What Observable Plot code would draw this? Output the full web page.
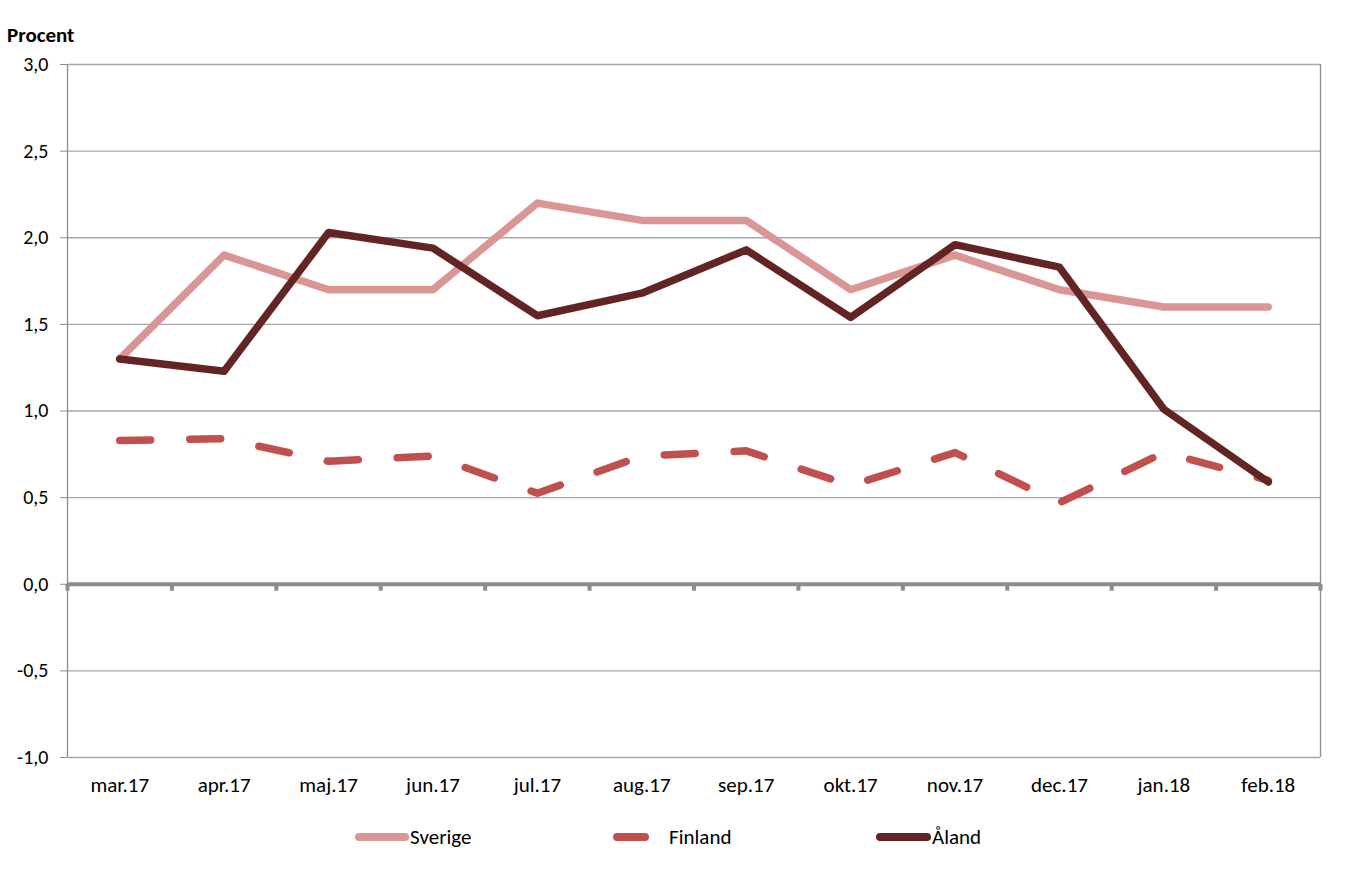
<!DOCTYPE html>
<html><head><meta charset="utf-8">
<script src="https://cdn.jsdelivr.net/npm/d3@7"></script>
<script src="https://cdn.jsdelivr.net/npm/@observablehq/plot@0.6"></script>
<style>
body{margin:0;background:#fff;font-family:Carlito,Lato,sans-serif;}
#wrap{position:relative;width:1347px;height:876px;}
#ylab{position:absolute;left:7px;top:22px;font-weight:bold;font-size:21px;color:#000;}
#chart{position:absolute;left:0;top:0;}
#legend{position:absolute;top:823px;left:0;width:1347px;height:30px;font-size:21px;color:#000;}
.li{position:absolute;top:0;display:flex;align-items:center;height:28px;}
</style></head>
<body><div id="wrap"><div id="ylab">Procent</div><div id="chart"></div><div id="legend"></div></div>
<script>
const months = ["mar.17","apr.17","maj.17","jun.17","jul.17","aug.17","sep.17","okt.17","nov.17","dec.17","jan.18","feb.18"];
const sverige = [1.3,1.9,1.7,1.7,2.2,2.1,2.1,1.7,1.9,1.7,1.6,1.6];
const finland = [0.83,0.84,0.71,0.74,0.525,0.74,0.77,0.57,0.76,0.47,0.76,0.60];
const aland = [1.30,1.23,2.03,1.94,1.55,1.68,1.93,1.54,1.96,1.83,1.01,0.59];
const yTicks = [-1,-0.5,0,0.5,1,1.5,2,2.5,3];
const seriesNames = ["Sverige","Finland","Åland"];
const colors = {"Sverige":"#DA9694","Finland":"#C0504D","Åland":"#632523"};

const toRows = (vals, name) => vals.map((v,i)=>({x:i+0.5, y:v, month:months[i], series:name}));
const sv = toRows(sverige,"Sverige"), fi = toRows(finland,"Finland"), al = toRows(aland,"Åland");
const fmt = d => d3.format(".1f")(d).replace(".",",").replace("−","-");

const plot = Plot.plot({
  width:1347, height:800,
  marginTop:64, marginBottom:43, marginLeft:67, marginRight:27,
  style:{fontFamily:"Carlito,Lato,sans-serif", fontSize:"21px", color:"#000", background:"transparent"},
  x:{type:"linear", domain:[0,months.length], axis:null},
  y:{domain:[-1,3], axis:null},
  marks:[
    Plot.ruleY(yTicks.filter(d=>d!==0), {stroke:"#A6A6A6", strokeWidth:1.3, strokeOpacity:1}),
    Plot.ruleX([0], {y1:-1, y2:3, stroke:"#8C8C8C", strokeWidth:1.3}),
    Plot.ruleX([months.length], {y1:-1, y2:3, stroke:"#8C8C8C", strokeWidth:1.3}),
    Plot.axisY({ticks:yTicks, tickFormat:fmt, tickSize:7, tickPadding:12, stroke:"#8C8C8C", fontSize:20, label:null}),
    Plot.axisX({ticks:months.map((m,i)=>i+0.5), tickFormat:d=>months[Math.floor(d)], tickSize:0, tickPadding:20, fontSize:21, label:null}),
    Plot.ruleX(d3.range(months.length+1), {y1:0, y2:-0.04, stroke:"#8C8C8C", strokeWidth:4}),
    Plot.ruleY([0], {stroke:"#8C8C8C", strokeWidth:4}),
    Plot.line(sv, {x:"x", y:"y", stroke:colors["Sverige"], strokeWidth:7.5, strokeLinejoin:"round", strokeLinecap:"round"}),
    Plot.line(fi, {x:"x", y:"y", stroke:colors["Finland"], strokeWidth:7.5, strokeLinejoin:"round", strokeLinecap:"round", strokeDasharray:"31,39"}),
    Plot.line(al, {x:"x", y:"y", stroke:colors["Åland"], strokeWidth:7.5, strokeLinejoin:"round", strokeLinecap:"round"})
  ]
});
document.getElementById("chart").appendChild(plot);

const legendPos = [{left:355, w:54, gap:1},{left:613, w:36, gap:20},{left:876, w:55, gap:1}];
const leg = document.getElementById("legend");
seriesNames.forEach((n,i)=>{
  const p = legendPos[i];
  const d = document.createElement("div");
  d.className="li"; d.style.left=p.left+"px";
  d.innerHTML = `<svg width="${p.w}" height="10"><line x1="4" x2="${p.w-4}" y1="5" y2="5" stroke="${colors[n]}" stroke-width="8" stroke-linecap="round"/></svg><span style="margin-left:${p.gap}px">${n}</span>`;
  leg.appendChild(d);
});
</script></body></html>
